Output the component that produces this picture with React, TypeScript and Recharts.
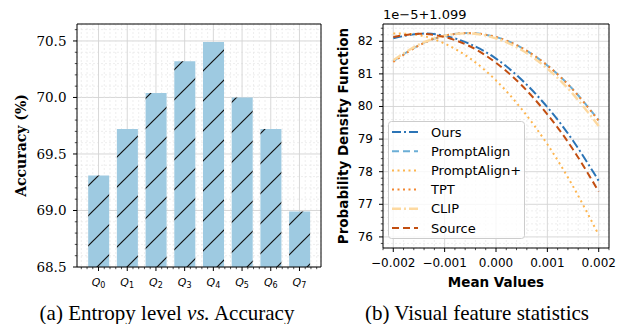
import React from "react";
import { BarChart, Bar, LineChart, Line, XAxis, YAxis, CartesianGrid, ReferenceLine, Legend } from "recharts";

// (a) entropy level vs accuracy
const levels = ["0", "1", "2", "3", "4", "5", "6", "7"];
const accuracy = [69.31, 69.72, 70.04, 70.32, 70.49, 70.0, 69.72, 68.99];
const accTicks = [68.5, 69.0, 69.5, 70.0, 70.5];
const accTickLabels = ["68.5", "69.0", "69.5", "70.0", "70.5"];

// (b) visual feature statistics, pdf values in 1e-5 units above 1.099
const meanValues = [-0.002, -0.0015, -0.001, -0.0005, 0, 0.0005, 0.001, 0.0015, 0.002];
const ours = [82.09, 82.23, 82.17, 81.91, 81.47, 80.82, 79.98, 78.95, 77.72];
const promptAlign = [81.39, 81.88, 82.17, 82.25, 82.13, 81.8, 81.26, 80.52, 79.58];
const promptAlignPlus = [82.24, 82.19, 81.93, 81.47, 80.8, 79.92, 78.84, 77.55, 76.06];
const tpt = [81.37, 81.87, 82.17, 82.25, 82.13, 81.8, 81.26, 80.51, 79.56];
const clip = [81.42, 81.9, 82.17, 82.24, 82.09, 81.73, 81.16, 80.38, 79.4];
const source = [82.13, 82.23, 82.13, 81.84, 81.34, 80.65, 79.76, 78.68, 77.39];
const meanTicks = [-0.002, -0.001, 0, 0.001, 0.002];
const meanTickLabels = ["\u22120.002", "\u22120.001", "0.000", "0.001", "0.002"];
const pdfTicks = [76, 77, 78, 79, 80, 81, 82];
const pdfTickLabels = ["76", "77", "78", "79", "80", "81", "82"];

const series = [
  { key: "ours", name: "Ours", color: "#2b74b6", dash: "9 3 2 3", width: 2 },
  { key: "promptAlign", name: "PromptAlign", color: "#6baed6", dash: "7 4", width: 2 },
  { key: "promptAlignPlus", name: "PromptAlign+", color: "#fdb54f", dash: "2 3.5", width: 2 },
  { key: "tpt", name: "TPT", color: "#f3862f", dash: "2 3.5", width: 2 },
  { key: "clip", name: "CLIP", color: "#fdd9a0", dash: "9 3 2 3", width: 2.4 },
  { key: "source", name: "Source", color: "#c24e10", dash: "7 4", width: 2 },
];

const barData = accuracy.map((acc, i) => ({ pos: i, acc }));
const lineData = meanValues.map((x, i) => ({
  x,
  ours: ours[i],
  promptAlign: promptAlign[i],
  promptAlignPlus: promptAlignPlus[i],
  tpt: tpt[i],
  clip: clip[i],
  source: source[i],
}));

// evenly spaced minor tick positions (layout only)
const steps = (from: number, to: number, step: number) => {
  const n = Math.round((to - from) / step);
  const out: number[] = [];
  for (let i = 0; i <= n; i++) out.push(+(from + i * step).toFixed(6));
  return out;
};
const indexOf = (v: number, list: number[]) => list.findIndex((m) => Math.abs(m - v) < 1e-9);

const levelPos = levels.map((_, i) => i);
const accMinor = steps(68.5, 70.6, 0.1);
const posMinor = steps(-0.6, 7.6, 0.2);
const pdfMinor = steps(75.8, 82.4, 0.2);
const meanMinor = steps(-0.0022, 0.0022, 0.0002);

const ACC_DOMAIN = [68.5, 70.65];
const POS_DOMAIN = [-0.75, 7.75];
const PDF_DOMAIN = [75.66, 82.53];
const MEAN_DOMAIN = [-0.0022, 0.0022];

const MAJOR = "#d4d4d4";
const MINOR = "#e6e6e6";
const serif = "'DejaVu Serif', serif";
const sans = "'DejaVu Sans', sans-serif";

// grid line renderer: the index follows the axis ticks, majors solid, minors dashed
const gridLine = (ticks: number[], majors: number[]) => (p: any) => {
  const major = indexOf(ticks[p.index], majors) >= 0;
  return (
    <line key={p.key} x1={p.x1} y1={p.y1} x2={p.x2} y2={p.y2} stroke={major ? MAJOR : MINOR}
      strokeWidth={major ? 0.9 : 0.7} strokeDasharray={major ? undefined : "2 2"} />
  );
};

const frame = (xd: number[], yd: number[], id: string) => [
  <ReferenceLine key={`${id}f1`} x={xd[0]} stroke="#000" strokeWidth={1} />,
  <ReferenceLine key={`${id}f2`} x={xd[1]} stroke="#000" strokeWidth={1} />,
  <ReferenceLine key={`${id}f3`} y={yd[0]} stroke="#000" strokeWidth={1} />,
  <ReferenceLine key={`${id}f4`} y={yd[1]} stroke="#000" strokeWidth={1} />,
];

const AccTick = ({ x, y, payload }: any) => {
  const idx = indexOf(payload.value, accTicks);
  return (
    <g>
      <line x1={x} x2={x - (idx >= 0 ? 4 : 2.2)} y1={y} y2={y} stroke="#000" strokeWidth={idx >= 0 ? 1 : 0.7} />
      {idx >= 0 && (
        <text x={x - 10.5} y={y} textAnchor="end" dominantBaseline="central" fontFamily={serif} fontSize={13.5} fill="#000">
          {accTickLabels[idx]}
        </text>
      )}
    </g>
  );
};

const LevelTick = ({ x, y, payload }: any) => {
  const idx = indexOf(payload.value, levelPos);
  return (
    <g>
      <line x1={x} x2={x} y1={y} y2={y + (idx >= 0 ? 4 : 2.2)} stroke="#000" strokeWidth={idx >= 0 ? 1 : 0.7} />
      {idx >= 0 && (
        <text x={x} y={y + 18.5} textAnchor="middle" fontFamily={sans} fontSize={11} fill="#000">
          <tspan fontStyle="italic">Q</tspan>
          <tspan fontSize={8} dy={2.5}>{levels[idx]}</tspan>
        </text>
      )}
    </g>
  );
};

const PdfTick = ({ x, y, payload }: any) => {
  const idx = indexOf(payload.value, pdfTicks);
  return (
    <g>
      <line x1={x} x2={x - (idx >= 0 ? 4 : 2.2)} y1={y} y2={y} stroke="#000" strokeWidth={idx >= 0 ? 1 : 0.7} />
      {idx >= 0 && (
        <text x={x - 10} y={y} textAnchor="end" dominantBaseline="central" fontFamily={sans} fontSize={12} fill="#000">
          {pdfTickLabels[idx]}
        </text>
      )}
    </g>
  );
};

const MeanTick = ({ x, y, payload }: any) => {
  const idx = indexOf(payload.value, meanTicks);
  return (
    <g>
      <line x1={x} x2={x} y1={y} y2={y + (idx >= 0 ? 4 : 2.2)} stroke="#000" strokeWidth={idx >= 0 ? 1 : 0.7} />
      {idx >= 0 && (
        <text x={x} y={y + 15} textAnchor="middle" dominantBaseline="central" fontFamily={sans} fontSize={12} fill="#000">
          {meanTickLabels[idx]}
        </text>
      )}
    </g>
  );
};

const LegendBox = () => (
  <svg width={137} height={118} style={{ display: "block" }}>
    <rect x={0.5} y={0.5} width={136} height={117} rx={3} fill="#fff" fillOpacity={0.8} stroke="#cccccc" />
    {series.map((s, i) => {
      const cy = 11 + i * 19.2;
      return (
        <g key={s.key}>
          <line x1={4} x2={30} y1={cy} y2={cy} stroke={s.color} strokeWidth={s.width} strokeDasharray={s.dash} />
          <text x={43} y={cy} dominantBaseline="central" fontFamily={sans} fontSize={13} fill="#000">
            {s.name}
          </text>
        </g>
      );
    })}
  </svg>
);

export default function App() {
  return (
    <div style={{ position: "absolute", left: 0, top: 0, width: 622, height: 324, background: "#fff" }}>
      <div style={{ position: "absolute", left: 0, top: 0 }}>
        <BarChart width={322} height={300} data={barData} margin={{ top: 24, right: 1, bottom: 0, left: 0 }}>
          <defs>
            <pattern id="hatch" patternUnits="userSpaceOnUse" width={30} height={30} x={4} y={0}>
              <rect width={30} height={30} fill="#9ecae1" />
              <path d="M0,30 L30,0 M-3,3 L3,-3 M27,33 L33,27" stroke="#111" strokeWidth={1.2} />
            </pattern>
          </defs>
          <CartesianGrid horizontal={gridLine(accMinor, accTicks)} vertical={gridLine(posMinor, levelPos)} />
          <XAxis type="number" dataKey="pos" domain={POS_DOMAIN} allowDataOverflow ticks={posMinor} interval={0}
            tick={LevelTick} tickLine={false} axisLine={false} tickSize={0} tickMargin={0} height={33} />
          <YAxis type="number" domain={ACC_DOMAIN} allowDataOverflow ticks={accMinor} interval={0}
            tick={AccTick} tickLine={false} axisLine={false} tickSize={0} tickMargin={0} width={77}
            label={() => (
              <text x={21} y={145.5} transform="rotate(-90, 21, 145.5)" textAnchor="middle" dominantBaseline="central"
                fontFamily={serif} fontWeight="bold" fontSize={14} fill="#000">
                Accuracy (%)
              </text>
            )} />
          <Bar dataKey="acc" fill="url(#hatch)" barSize={21} isAnimationActive={false} />
          {frame(POS_DOMAIN, ACC_DOMAIN, "a")}
        </BarChart>
      </div>

      <div style={{ position: "absolute", left: 311, top: 0 }}>
        <LineChart width={311} height={300} data={lineData} margin={{ top: 24, right: 13, bottom: 0, left: 0 }}>
          <CartesianGrid horizontal={gridLine(pdfMinor, pdfTicks)} vertical={gridLine(meanMinor, meanTicks)} />
          <XAxis type="number" dataKey="x" domain={MEAN_DOMAIN} allowDataOverflow ticks={meanMinor} interval={0}
            tick={MeanTick} tickLine={false} axisLine={false} tickSize={0} tickMargin={0} height={52}
            label={() => (
              <text x={185} y={281.7} textAnchor="middle" dominantBaseline="central" fontFamily={sans} fontWeight="bold" fontSize={13.5} fill="#000">
                Mean Values
              </text>
            )} />
          <YAxis type="number" domain={PDF_DOMAIN} allowDataOverflow ticks={pdfMinor} interval={0}
            tick={PdfTick} tickLine={false} axisLine={false} tickSize={0} tickMargin={0} width={72}
            label={() => (
              <g>
                <text x={32} y={136} transform="rotate(-90, 32, 136)" textAnchor="middle" dominantBaseline="central"
                  fontFamily={sans} fontWeight="bold" fontSize={13.5} fill="#000">
                  Probability Density Function
                </text>
                <text x={72} y={14.7} dominantBaseline="central" fontFamily={sans} fontSize={13} fill="#000">
                  1e{"\u2212"}5+1.099
                </text>
              </g>
            )} />
          {series.map((s) => (
            <Line key={s.key} type="natural" dataKey={s.key} name={s.name} stroke={s.color} strokeWidth={s.width}
              strokeDasharray={s.dash} dot={false} activeDot={false} isAnimationActive={false} />
          ))}
          {frame(MEAN_DOMAIN, PDF_DOMAIN, "b")}
          <Legend layout="horizontal" verticalAlign="middle" align="center" content={LegendBox}
            wrapperStyle={{ left: 77, top: 121, width: 137, height: 118 }} />
        </LineChart>
      </div>

      <div style={{ position: "absolute", left: 0, width: 334, top: 301, textAlign: "center", fontFamily: "'Liberation Serif', serif", fontSize: 21, lineHeight: "24px", color: "#000" }}>
        (a) Entropy level <i>vs.</i> Accuracy
      </div>
      <div style={{ position: "absolute", left: 364, width: 226, top: 301, textAlign: "center", fontFamily: "'Liberation Serif', serif", fontSize: 21, lineHeight: "24px", color: "#000", whiteSpace: "nowrap" }}>
        (b) Visual feature statistics
      </div>
    </div>
  );
}
